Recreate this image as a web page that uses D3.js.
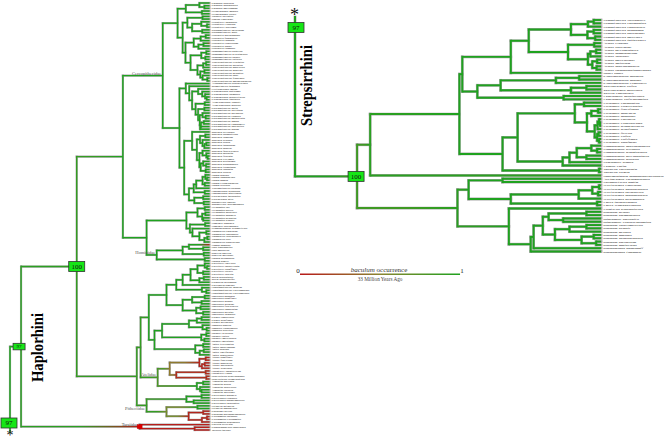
<!DOCTYPE html>
<html><head><meta charset="utf-8">
<script src="https://cdn.jsdelivr.net/npm/d3@7"></script>
<style>html,body{margin:0;padding:0;background:#fff}svg{display:block}</style>
</head><body>
<svg id="chart" width="669" height="443"></svg>
<script>
// ---------------- DATA ----------------
// Trees in a Newick-like format: name:nodeAge(Myr)[baculum probability]
// (probability is inherited from the parent when not given)
const colobini = "((Colobus guereza,(Colobus angolensis,Colobus polykomos):1.6):3.2,(Piliocolobus badius,Piliocolobus kirkii):2.4):7.5";
const oddNosed = "((Nasalis larvatus,Simias concolor):2.2,((Pygathrix nemaeus,(Pygathrix cinerea,Pygathrix nigripes):0.8):2.6,(Rhinopithecus roxellana,Rhinopithecus bieti):2.3):5.5):7";
const presbytis = "(((Presbytis melalophos,Presbytis femoralis):1.2,Presbytis comata):2.8,((Presbytis rubicunda[0.25],Presbytis hosei):1.9,Presbytis thomasi):3.5):5";
const semnoTrachy = "(((Semnopithecus entellus,Semnopithecus schistaceus):1,(Semnopithecus johnii,Semnopithecus vetulus):1.3):2.6,(((Trachypithecus cristatus,Trachypithecus auratus):1.1,Trachypithecus obscurus):2,((Trachypithecus phayrei,Trachypithecus pileatus):1.6,(Trachypithecus geei,(Trachypithecus francoisi,Trachypithecus poliocephalus):0.7):2.2):2.9):3.8):6";
const cercopithecini = "(Allenopithecus nigroviridis,(Miopithecus talapoin,((Erythrocebus patas,(Chlorocebus aethiops,(Chlorocebus sabaeus,(Chlorocebus pygerythrus,Chlorocebus tantalus):0.9):1.4):2.3):3.6,((Allochrocebus lhoesti,Allochrocebus preussi):1.5,((Cercopithecus mitis,Cercopithecus nictitans):1.6,((Cercopithecus ascanius,(Cercopithecus cephus,Cercopithecus petaurista):1.2):2.2,((Cercopithecus mona,Cercopithecus campbelli):1.8,(Cercopithecus neglectus,Cercopithecus diana):3):2.7):3.1):3.6):4.4):5.5):6.4):7.5";
const macaca = "(Macaca sylvanus,(((Macaca nemestrina,Macaca leonina):1.3,(Macaca silenus,((Macaca nigra,Macaca tonkeana):1,Macaca maura):1.6):2.2):3,((Macaca fascicularis,(Macaca mulatta,(Macaca fuscata,Macaca cyclopis):0.6):1):2.2,((Macaca arctoides,(Macaca assamensis,Macaca thibetana):1.1):2,(Macaca radiata,Macaca sinica):1.2):2.8):3.2):4):5.5";
const papionina = "((((Papio anubis,(Papio hamadryas,Papio papio):0.8):1.3,(Papio cynocephalus,Papio ursinus):1.5):2.2,Theropithecus gelada):4.2,(Lophocebus albigena,Lophocebus aterrimus):1.5):5";
const cercMand = "((Cercocebus torquatus,Cercocebus atys):2,(Mandrillus sphinx,Mandrillus leucophaeus):1.8):4.8";
const hylobatidae = "(((Hylobates lar,Hylobates agilis):1.5,((Hylobates muelleri,Hylobates moloch):1.3,(Hylobates pileatus,Hylobates klossii):2):2.3):3.8,((Hoolock hoolock,Hoolock leuconedys):1.4,(Symphalangus syndactylus,((Nomascus concolor,Nomascus hainanus):1,((Nomascus leucogenys,Nomascus siki):0.7,Nomascus gabriellae):1.6):3.2):5.4):6.2)Hylobatidae:7.3";
const hominidae = "(((Homo sapiens[0.05],(Pan troglodytes,Pan paniscus):2):6.5,(Gorilla gorilla,Gorilla beringei):1.8):8.5,(Pongo pygmaeus,Pongo abelii):1.5)Hominidae:16.7";
const marmosets = "(((Callithrix jacchus,(Callithrix penicillata,Callithrix geoffroyi):0.8):1.5,(Callithrix kuhlii,Callithrix aurita):2):3.8,((Mico argentatus,Mico humeralifer):1.8,Cebuella pygmaea):3.2):6";
const leontopithecus = "(Leontopithecus rosalia,(Leontopithecus chrysomelas,Leontopithecus chrysopygus):1):2.4";
const saguinus = "(((Saguinus oedipus,Saguinus geoffroyi):1.5,(Saguinus midas,Saguinus bicolor):2.5):5.5,((Saguinus fuscicollis,Saguinus imperator):2.8,(Saguinus mystax,Saguinus labiatus):2):4.2):8.5";
const cebini = "(((Cebus capucinus,Cebus albifrons):2.5,Cebus olivaceus):4,(Sapajus apella,(Sapajus libidinosus,Sapajus nigritus):0.9):2.2):6.5";
const saimiri = "((Saimiri sciureus,Saimiri ustus):1,(Saimiri boliviensis,Saimiri oerstedii):1.6):2.6";
const aotus = "((Aotus trivirgatus,Aotus nancymaae):2,((Aotus azarae,Aotus vociferans):1.8,Aotus lemurinus):3.1):4.5";
const atelidae = "((((Ateles geoffroyi,Ateles fusciceps):1.2,((Ateles paniscus,Ateles belzebuth):1.5,Ateles hybridus):2.4):3.2[0.05],((Lagothrix lagothricha,Lagothrix cana):1.2,(Brachyteles arachnoides,Brachyteles hypoxanthus):1):10.5[0.1]):12.6[0.45],((Alouatta palliata,Alouatta pigra):2,(Alouatta seniculus,(Alouatta caraya,Alouatta belzebul):2.5):3):4[1])Atelidae:16.4[0.8]";
const pitheciidae = "(((Callicebus moloch,Callicebus cupreus):2.5,(Callicebus donacophilus,Callicebus torquatus):5):7.3[1],((Pithecia pithecia,Pithecia monachus):3.8[1],((Cacajao calvus,Cacajao melanocephalus):2,((Chiropotes satanas,Chiropotes chiropotes):0.8,Chiropotes albinasus):2.4):6.6[0.05]):13.6[0.6])Pitheciidae:19.9[0.9]";
const tarsiidae = "(Carlito syrichta,(Cephalopachus bancanus,Tarsius tarsier):4.7)Tarsiidae:22.1[0.02]";

const propithecus = "(((Propithecus verreauxi,Propithecus coronatus):1.5,Propithecus coquereli):2.7,((Propithecus diadema,Propithecus edwardsi):1.5,(Propithecus perrieri,Propithecus tattersalli):1.2):2.8):6.2";
const avahi = "((Avahi cleesei,Avahi unicolor):1.4,(((Avahi occidentalis,Avahi mooreorum):1,Avahi laniger):2.2,((Avahi peyrierasi,Avahi betsileo):0.8,(Avahi meridionalis,Avahi ramanantsoavanai):0.9):1.8):2.7):6.8";
const cheirLepi = "((((Cheirogaleus medius,Cheirogaleus major):4.5,Cheirogaleus crossleyi):9.3,((Microcebus rufus,Microcebus murinus):3,Mirza coquereli):6.2)Cheirogaleidae:20.7,(Lepilemur mustelinus,Lepilemur ruficaudatus):7.7):25.5";
const eulemur = "((Eulemur coronatus,Eulemur rubriventer):3.5,(((Eulemur flavifrons,Eulemur macaco):0.6,Eulemur mongoz):2,(((Eulemur collaris,(Eulemur cinereiceps,Eulemur albocollaris):0.2):0.4,Eulemur albifrons):0.7,((Eulemur fulvus,Eulemur rufus):0.5,(Eulemur rufifrons,Eulemur sanfordi):0.4):0.8):1.3):2.9):5.4";
const hapLemur = "((((Hapalemur meridionalis,(Hapalemur griseus,Hapalemur alaotrensis):0.8):2,(Hapalemur occidentalis,Hapalemur aureus):3):5,Prolemur simus):6.5,Lemur catta):7.9";
const lorisidae = "((Arctocebus calabarensis,Perodicticus potto):20.3,((((Nycticebus coucang,Nycticebus bengalensis):0.4,(Nycticebus javanicus,Nycticebus menagensis):0.6):1.8,Nycticebus pygmaeus):4.6,(Loris tardigradus,Loris lydekkerianus):0.8):18.6)Lorisidae:27.3[1]";
const galagidae = "(Euoticus elegantulus,(((((Galago alleni,Galago gabonensis):3,(Otolemur garnettii,Otolemur crassicaudatus):7.8):10.8,(((Galago zanzibaricus,Galago granti):3,Galago orinus):6.5,((Galago moholi,Galago senegalensis):1.5,(Galago gallarum,Galago matschiei):1):4):9.5):12,Galagoides demidoff):13.9,Galagoides thomasi):14.5)Galagidae:19[1]";

const colobinae = "(" + colobini + ",(" + oddNosed + ",(" + presbytis + "," + semnoTrachy + "):7.6):8.5)Colobinae:10.1";
const cercopithecinae = "(" + cercopithecini + ",(" + macaca + ",(" + papionina + "," + cercMand + "):6.5):8)Cercopithecinae:9.5";
const catarrhini = "((" + colobinae + "," + cercopithecinae + ")Cercopithecidae:14.8,(" + hylobatidae + "," + hominidae + ")Hominoidea:19.9)Catarrhini:27.4[1]";
const callitrichinae = "(((" + marmosets + ",Callimico goeldii):8.5," + leontopithecus + "):10.5," + saguinus + ")Callitrichinae:13.6";
const cebidae = "(" + callitrichinae + ",((" + cebini + "," + saimiri + "):15," + aotus + "):17.4)Cebidae:19.2[1]";
const platyrrhini = "((" + cebidae + "," + atelidae + "):21.8," + pitheciidae + ")Platyrrhini:23[0.9]";
const leftTree = "(((" + catarrhini + "," + platyrrhini + ")Anthropoidea:42[0.9]," + tarsiidae + ")Haplorhini:59.6[0.95])Primates:63.1[1]";

const indriidae = "((" + propithecus + "," + avahi + "):14.9,Indri indri)Indriidae:18.6";
const lemuridae = "((" + eulemur + "," + hapLemur + "):17.2,(Varecia variegata,Varecia rubra):0.4)Lemuridae:20.3";
const lemuriformes = "(((" + indriidae + "," + cheirLepi + "):28.6," + lemuridae + "):29.2[1],Daubentonia madagascariensis)Lemuriformes:47.6[0.95]";
const rightTree = "((" + lemuriformes + ",(" + lorisidae + "," + galagidae + ")Lorisiformes:29.6[0.95])Strepsirrhini:50.3[0.85])Primates:63.1[1]";

const supportValues = [
  {tree:"left", node:"Primates", label:"97", size:"big"},
  {tree:"left", node:"Haplorhini", label:"97", size:"small"},
  {tree:"left", node:"Anthropoidea", label:"100", size:"big"},
  {tree:"right", node:"Primates", label:"97", size:"big"},
  {tree:"right", node:"Strepsirrhini", label:"100", size:"big"}
];
const cladeLabels = [
  {node:"Cercopithecidae", text:"Cercopithecidae", place:"above"},
  {node:"Hominidae", text:"Hominidae", place:"above"},
  {node:"Atelidae", text:"Atelidae", place:"above"},
  {node:"Pitheciidae", text:"Pitheciidae", place:"below"},
  {node:"Tarsiidae", text:"Tarsiidae", place:"above"}
];
const groupTitles = ["Haplorhini", "Strepsirrhini"];
const legendTicks = ["0", "1"];
const stateStops = [0, 0.5, 1];
const scaleBarMyr = 33;
const scaleBarLabel = "33 Million Years Ago";

// ---------------- STYLE / LAYOUT ----------------
const stateColors = ["#b81a1a", "#8a8530", "#1fa21f"];
const outlineColor = "#a8a8a8";
const serif = "'Liberation Serif','Times New Roman',serif";
const color = d3.scaleLinear().domain(stateStops).range(stateColors).interpolate(d3.interpolateRgb);

const svg = d3.select("#chart");
svg.append("rect").attr("width",669).attr("height",443).attr("fill","#fff");
const defs = svg.append("defs");

function parseNewick(s){
  let i = 0;
  const read = stop => { let t = ""; while (i < s.length && !stop.includes(s[i])) t += s[i++]; return t; };
  function node(){
    const n = {};
    if (s[i] === "(") {
      i++; n.children = [node()];
      while (s[i] === ",") { i++; n.children.push(node()); }
      i++;
    }
    n.name = read(":,()[").trim();
    n.age = 0;
    if (s[i] === ":") { i++; n.age = +read(",()["); }
    if (s[i] === "[") { i++; n.p = +read("]"); i++; }
    return n;
  }
  return node();
}

function drawTree(newick, cfg, id){
  const root = d3.hierarchy(parseNewick(newick));
  root.eachBefore(d => { d.p = d.data.p !== undefined ? d.data.p : (d.parent ? d.parent.p : 1); });
  const leaves = root.leaves();
  const y = d3.scalePoint().domain(leaves.map(d => d.data.name)).range([cfg.y0, cfg.y1]);
  const x = d3.scaleLinear().domain([root.data.age, 0]).range([cfg.rootX, cfg.tipX]);
  root.eachAfter(d => {
    d.x = x(d.data.age);
    d.y = d.children ? d3.mean(d.children, c => c.y) : y(d.data.name);
  });
  const hSegs = root.descendants().filter(d => d.parent).map((d, k) => ({x1:d.parent.x, x2:d.x, y:d.y, p0:d.parent.p, p1:d.p, k}));
  const vSegs = root.descendants().filter(d => d.children && d.children.length > 1)
    .map(d => ({x:d.x, y1:d.children[0].y, y2:d.children[d.children.length-1].y, p:d.p}));
  vSegs.push({x:root.x, y1:root.y, y2:cfg.stubEnd, p:root.p});

  hSegs.filter(s => s.p0 !== s.p1).forEach(s => {
    const gr = defs.append("linearGradient").attr("id", id + "g" + s.k)
      .attr("gradientUnits","userSpaceOnUse").attr("x1", s.x1).attr("x2", s.x2).attr("y1", s.y).attr("y2", s.y);
    gr.append("stop").attr("offset", 0).attr("stop-color", color(s.p0));
    gr.append("stop").attr("offset", 0.5).attr("stop-color", color(s.p0));
    gr.append("stop").attr("offset", 1).attr("stop-color", color(s.p1));
  });

  const g = svg.append("g");
  const og = g.append("g").attr("stroke", outlineColor).attr("stroke-width", cfg.outline).attr("stroke-linecap","square");
  og.selectAll("line.h").data(hSegs).join("line").attr("x1", d=>d.x1).attr("x2", d=>d.x2).attr("y1", d=>d.y).attr("y2", d=>d.y);
  og.selectAll("line.v").data(vSegs).join("line").attr("x1", d=>d.x).attr("x2", d=>d.x).attr("y1", d=>d.y1).attr("y2", d=>d.y2);
  const cg = g.append("g").attr("stroke-width", cfg.line);
  cg.selectAll("line.h").data(hSegs).join("line")
    .attr("x1", d=>d.x1).attr("x2", d=>d.x2).attr("y1", d=>d.y).attr("y2", d=>d.y)
    .attr("stroke", d => d.p0 === d.p1 ? color(d.p1) : `url(#${id}g${d.k})`);
  cg.selectAll("line.v").data(vSegs).join("line").attr("stroke-linecap","square")
    .attr("x1", d=>d.x).attr("x2", d=>d.x).attr("y1", d=>d.y1).attr("y2", d=>d.y2)
    .attr("stroke", d => color(d.p));

  g.append("g").selectAll("text").data(leaves).join("text")
    .attr("transform", d => `translate(${cfg.tipX + cfg.labelGap},${d.y}) scale(${cfg.labelStretch},1)`)
    .attr("dominant-baseline","central")
    .attr("font-family", serif).attr("font-style","italic").attr("font-size", cfg.labelSize)
    .attr("fill", "#1a1a1a").text(d => d.data.name);

  const byName = new Map(root.descendants().filter(d => d.data.name).map(d => [d.data.name, d]));
  return {root, byName, x};
}

const left = drawTree(leftTree, {rootX:10, tipX:209.5, y0:3, y1:430, stubEnd:432, outline:2.2, line:1.4, labelSize:2.3, labelStretch:1.45, labelGap:2}, "L");
const right = drawTree(rightTree, {rootX:295, tipX:601, y0:20, y1:251.5, stubEnd:17, outline:2.8, line:1.9, labelSize:2.9, labelStretch:1.65, labelGap:2.2}, "R");

// clade labels (left tree)
svg.append("g").selectAll("text").data(cladeLabels).join("text")
  .attr("x", d => left.byName.get(d.node).x - 1.5)
  .attr("y", d => left.byName.get(d.node).y + (d.place === "above" ? -1 : 5))
  .attr("text-anchor","end").attr("font-family", serif).attr("font-size", 4.5).attr("fill","#555")
  .text(d => d.text);

// Tarsiidae state marker
const tn = left.byName.get("Tarsiidae");
svg.append("rect").attr("x", tn.x - 2.5).attr("y", tn.y - 2).attr("width", 5).attr("height", 4)
  .attr("fill", "#e00000").attr("stroke", "#b00").attr("stroke-width", 0.4);

// support boxes
const boxSizes = {big:{w:16, h:10, fs:7}, small:{w:12, h:6.5, fs:5}};
supportValues.forEach(s => {
  const t = s.tree === "left" ? left : right;
  const n = t.byName.get(s.node);
  let cx = n.x, cy = n.y;
  if (n === t.root) {
    if (s.tree === "left") { cx = n.x - 1; cy = 423; } else { cx = n.x + 1; cy = 27.5; }
  } else if (s.size === "small") { cx = n.x - 2; }
  else if (s.tree === "right") { cx = n.x - 1; }
  const b = boxSizes[s.size];
  svg.append("rect").attr("x", cx - b.w/2).attr("y", cy - b.h/2).attr("width", b.w).attr("height", b.h)
    .attr("fill", "#16e616").attr("stroke", "#333").attr("stroke-width", 0.8);
  svg.append("text").attr("x", cx).attr("y", cy + 0.3).attr("text-anchor","middle").attr("dominant-baseline","central")
    .attr("font-family", serif).attr("font-size", b.fs).attr("fill","#111").text(s.label);
});

// asterisks
svg.append("text").attr("x", 10).attr("y", 439.5).attr("text-anchor","middle").attr("font-family", serif).attr("font-size", 14).attr("fill","#111").text("*");
svg.append("text").attr("x", 294.5).attr("y", 20.5).attr("text-anchor","middle").attr("font-family", serif).attr("font-size", 18).attr("fill","#111").text("*");

// group titles
[[groupTitles[0], 37, 347.5, 69], [groupTitles[1], 306, 85.5, 81]].forEach(([t, cx, cy, len]) => {
  svg.append("text").attr("transform", `translate(${cx},${cy}) rotate(-90)`)
    .attr("text-anchor","middle").attr("dominant-baseline","central")
    .attr("font-family", serif).attr("font-weight","bold").attr("font-size", 17)
    .attr("textLength", len).attr("lengthAdjust","spacingAndGlyphs").attr("fill","#000").text(t);
});

// legend (colour scale + time bar)
const lx0 = 300, ly = 274.3;
const lx1 = lx0 + (right.x(0) - right.x(scaleBarMyr));
const lg = defs.append("linearGradient").attr("id","legendGrad").attr("gradientUnits","userSpaceOnUse")
  .attr("x1", lx0).attr("x2", lx1).attr("y1", ly).attr("y2", ly);
stateStops.forEach(v => lg.append("stop").attr("offset", v).attr("stop-color", color(v)));
svg.append("line").attr("x1", lx0).attr("x2", lx1).attr("y1", ly).attr("y2", ly)
  .attr("stroke","url(#legendGrad)").attr("stroke-width", 1.4);
svg.append("text").attr("x", lx0 - 2).attr("y", 272.5).attr("text-anchor","middle").attr("font-family", serif).attr("font-size", 7).attr("fill","#222").text(legendTicks[0]);
svg.append("text").attr("x", lx1 + 2).attr("y", 272.5).attr("text-anchor","middle").attr("font-family", serif).attr("font-size", 7).attr("fill","#222").text(legendTicks[1]);
const lt = svg.append("text").attr("x", (lx0 + lx1)/2 - 1).attr("y", 272).attr("text-anchor","middle")
  .attr("font-family", serif).attr("font-size", 7).attr("fill","#333");
lt.append("tspan").attr("font-style","italic").text("baculum");
lt.append("tspan").text(" occurrence");
svg.append("text").attr("x", (lx0 + lx1)/2).attr("y", 280.5).attr("text-anchor","middle")
  .attr("font-family", serif).attr("font-size", 5.2).attr("fill","#444").text(scaleBarLabel);
</script>
</body></html>
